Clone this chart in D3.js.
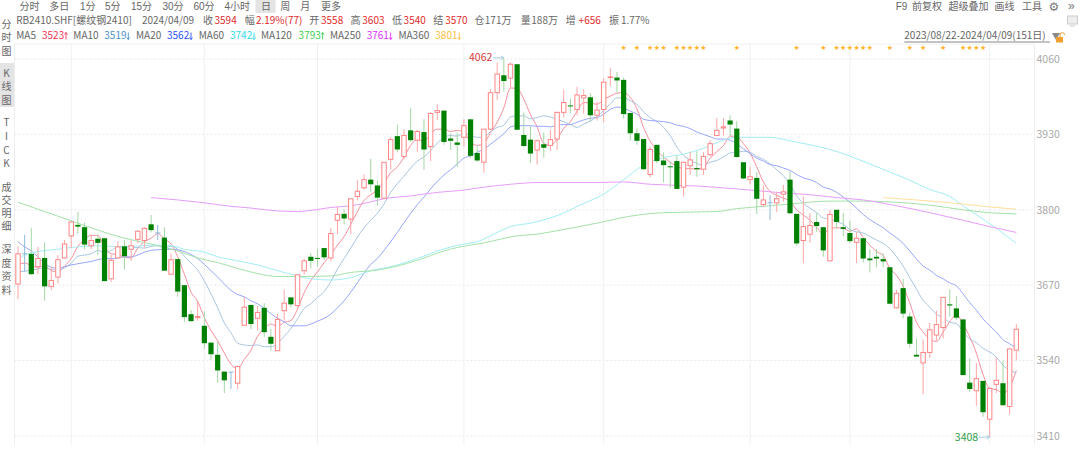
<!DOCTYPE html>
<html>
<head>
<meta charset="utf-8">
<script src="https://cdn.jsdelivr.net/npm/d3@7"></script>
<style>
  html, body { margin: 0; padding: 0; background: #fff; }
  svg { display: block; }
  text { font-family: "Noto Sans CJK SC", "Noto Sans", sans-serif; }
  text.bar { font-family: "Liberation Sans", "Noto Sans CJK SC", sans-serif; }
</style>
</head>
<body>
<svg id="chart" width="1080" height="456"></svg>
<script>
// 日K数据, 2023/08/22 - 2024/04/09
const opens = [3672,3725,3724,3702,3717,3668,3684,3717,3755,3774,3770,3738,3750,3751,3681,3717,3737,3732,3749,3747,3775,3761,3752,3689,3715,3670,3620,3614,3600,3571,3550,3521,3521,3501,3601,3636,3613,3631,3581,3557,3626,3649,3635,3695,3719,3717,3734,3717,3782,3793,3784,3823,3838,3852,3842,3820,3887,3927,3892,3937,3920,3934,3909,3968,3971,3923,3916,3925,3956,3898,3882,3939,4002,4032,4027,4051,3929,3921,3903,3913,3911,3922,3968,3980,3973,3993,3994,3963,3973,4028,4028,4024,3967,3932,3922,3861,3912,3885,3875,3884,3839,3876,3872,3870,3895,3928,3941,3954,3940,3882,3852,3855,3809,3813,3812,3827,3852,3793,3747,3758,3779,3770,3712,3800,3770,3760,3744,3751,3716,3719,3715,3701,3631,3665,3616,3550,3536,3554,3584,3597,3637,3630,3611,3502,3488,3505,3439,3499,3501,3461,3558];
const highs = [3737,3757,3769,3736,3744,3701,3722,3748,3780,3797,3778,3757,3757,3751,3722,3746,3747,3748,3765,3770,3791,3774,3770,3725,3715,3670,3627,3643,3625,3571,3573,3521,3521,3531,3650,3636,3634,3639,3595,3621,3662,3649,3688,3716,3725,3732,3734,3769,3805,3801,3819,3851,3861,3888,3850,3882,3925,3947,3939,3975,3938,3956,3969,3982,3971,3932,3933,3956,3956,3909,3939,4008,4054,4062,4054,4051,3968,3944,3921,3933,3938,3969,4007,3992,4012,4008,4001,3986,4027,4045,4038,4028,3967,3940,3922,3909,3912,3899,3883,3894,3882,3900,3901,3899,3920,3958,3958,3963,3953,3882,3874,3865,3842,3825,3831,3843,3866,3793,3823,3794,3794,3770,3800,3800,3794,3781,3762,3751,3732,3732,3725,3701,3662,3681,3623,3578,3576,3605,3626,3650,3663,3651,3611,3544,3536,3505,3494,3546,3540,3561,3603];
const lows = [3646,3693,3688,3689,3643,3662,3673,3716,3734,3759,3732,3732,3722,3677,3676,3716,3697,3712,3742,3735,3761,3748,3695,3688,3650,3606,3607,3609,3560,3541,3502,3484,3491,3491,3601,3594,3592,3581,3557,3557,3609,3632,3633,3688,3699,3702,3713,3711,3758,3775,3758,3816,3835,3831,3807,3819,3870,3899,3887,3917,3900,3869,3884,3955,3912,3903,3874,3909,3889,3883,3864,3938,3989,4004,4009,3938,3909,3881,3878,3890,3902,3903,3959,3966,3963,3966,3952,3954,3951,4013,4002,3957,3919,3912,3869,3856,3880,3847,3837,3835,3823,3860,3857,3860,3892,3927,3928,3926,3890,3853,3844,3793,3805,3782,3796,3814,3793,3738,3708,3743,3762,3719,3712,3768,3754,3742,3708,3709,3692,3701,3701,3638,3630,3613,3562,3547,3482,3545,3574,3578,3616,3610,3515,3486,3462,3443,3408,3484,3463,3447,3540];
const closes = [3724,3725,3689,3716,3668,3678,3714,3741,3779,3771,3740,3747,3743,3677,3713,3736,3720,3738,3763,3768,3765,3761,3695,3714,3659,3615,3608,3616,3570,3551,3523,3506,3521,3530,3632,3603,3623,3589,3569,3611,3639,3637,3688,3712,3712,3716,3718,3759,3792,3785,3819,3832,3852,3844,3821,3882,3921,3904,3928,3920,3935,3904,3966,3971,3917,3919,3912,3945,3893,3885,3939,4002,4034,4022,4051,3938,3910,3897,3919,3907,3921,3968,3985,3979,3998,3997,3963,3972,4020,4029,4023,3965,3932,3919,3870,3904,3884,3877,3874,3836,3882,3886,3870,3892,3914,3937,3943,3947,3891,3854,3857,3819,3817,3813,3819,3831,3794,3742,3771,3773,3772,3730,3792,3779,3767,3746,3751,3716,3713,3716,3711,3638,3656,3621,3569,3547,3554,3593,3602,3649,3635,3614,3515,3491,3509,3451,3492,3506,3463,3560,3594];

// 均线
const ma5 = [3706,3708,3704,3701,3704,3695,3693,3703,3716,3737,3749,3756,3756,3736,3724,3723,3718,3717,3734,3745,3751,3759,3750,3741,3719,3689,3658,3642,3614,3592,3574,3553,3534,3526,3542,3558,3582,3595,3603,3599,3606,3609,3629,3657,3678,3693,3709,3723,3739,3754,3775,3797,3816,3826,3834,3846,3864,3874,3891,3911,3922,3918,3931,3939,3939,3935,3937,3933,3917,3911,3915,3933,3951,3976,4010,4009,3991,3964,3943,3914,3911,3922,3940,3952,3970,3985,3984,3982,3990,3996,4001,4002,3994,3974,3942,3918,3902,3891,3882,3875,3871,3871,3870,3873,3889,3900,3911,3927,3926,3914,3898,3874,3848,3832,3825,3820,3815,3800,3791,3782,3770,3758,3768,3769,3768,3763,3767,3752,3739,3728,3721,3699,3687,3668,3639,3606,3589,3577,3573,3589,3607,3619,3603,3581,3553,3516,3492,3490,3484,3494,3523];
const ma10 = [3693,3694,3696,3698,3700,3697,3696,3700,3708,3720,3722,3724,3730,3726,3730,3736,3737,3736,3735,3734,3737,3738,3734,3737,3732,3720,3708,3696,3677,3655,3631,3605,3588,3570,3567,3566,3567,3564,3564,3570,3582,3595,3612,3630,3638,3649,3659,3676,3698,3716,3734,3753,3769,3782,3794,3810,3830,3845,3858,3872,3884,3891,3902,3915,3925,3928,3927,3932,3928,3925,3925,3935,3942,3946,3960,3962,3962,3957,3959,3962,3960,3956,3952,3947,3942,3948,3953,3961,3971,3983,3993,3993,3988,3982,3969,3959,3952,3942,3928,3908,3894,3886,3880,3877,3882,3885,3891,3898,3899,3901,3899,3892,3887,3879,3869,3859,3844,3824,3811,3803,3795,3786,3784,3780,3775,3766,3762,3760,3754,3748,3742,3733,3719,3703,3683,3663,3644,3632,3620,3614,3606,3604,3590,3577,3571,3561,3555,3546,3532,3523,3519];
const ma20 = [3745,3736,3729,3719,3708,3701,3699,3702,3705,3707,3709,3711,3714,3716,3716,3717,3719,3719,3722,3727,3730,3731,3732,3732,3731,3728,3723,3716,3706,3695,3684,3672,3661,3654,3650,3643,3638,3630,3621,3613,3607,3600,3600,3600,3603,3608,3613,3620,3631,3643,3658,3674,3691,3706,3716,3730,3745,3761,3778,3794,3809,3822,3836,3849,3860,3869,3879,3889,3893,3899,3905,3913,3922,3931,3943,3945,3945,3945,3944,3944,3943,3946,3947,3947,3951,3955,3958,3959,3965,3973,3977,3975,3970,3965,3956,3954,3953,3952,3950,3946,3944,3940,3934,3930,3926,3922,3922,3920,3914,3905,3897,3889,3884,3878,3876,3872,3868,3861,3855,3852,3847,3839,3836,3830,3822,3813,3803,3792,3783,3776,3769,3760,3752,3742,3729,3715,3703,3696,3687,3681,3674,3669,3655,3640,3627,3612,3600,3589,3576,3569,3562];

const ma60Days = [0,1,3,6,8,12,16,20,23,25,28,30,33,36,39,42,44,47,50,53,56,60,63,67,69,72,74,77,81,85,88,91,94,97,100,103,106,108,110,113,116,119,122,128,131,134,137,140,142,145,147,150];
const ma60 = [3715,3722,3728,3732,3735,3738,3736,3739,3738,3732,3727,3719,3712,3705,3695,3686,3681,3679,3683,3695,3702,3716,3729,3741,3745,3761,3771,3777,3790,3811,3827,3852,3877,3890,3896,3906,3920,3925,3925,3925,3919,3912,3904,3879,3865,3851,3835,3823,3807,3784,3768,3742];
const ma120Days = [0,4,8,12,16,20,24,27,30,33,36,39,42,47,50,54,57,60,64,66,70,75,78,81,87,92,97,105,108,111,116,122,127,132,137,142,146,150];
const ma120 = [3813,3797,3781,3765,3751,3741,3729,3717,3709,3699,3690,3685,3685,3686,3692,3696,3703,3713,3729,3735,3743,3755,3758,3764,3777,3789,3795,3797,3802,3805,3810,3815,3815,3813,3808,3800,3795,3793];
const ma250Days = [20,24,28,32,35,39,42,44,47,50,52,55,59,63,67,70,74,78,81,87,91,95,102,108,114,120,123,127,132,137,142,146,150];
const ma250 = [3821,3817,3812,3806,3803,3798,3797,3799,3804,3807,3811,3819,3824,3830,3834,3839,3844,3847,3847,3847,3848,3844,3841,3836,3830,3825,3821,3817,3807,3795,3782,3771,3761];
const ma360Days = [130,135,141,146,150];
const ma360 = [3821,3817,3811,3805,3801];

const priceTicks = [3410,3540,3670,3800,3930,4060];
const monthStarts = [8,28,45,67,88,110,125,146];   // 每月第一根K线
const starDays = [91,93,95,96,97,99,100,101,102,103,108,117,121,123,124,125,126,127,128,131,134,136,139,142,143,144,145];

const periods = ["分时","多日","1分","5分","15分","30分","60分","4小时","日","周","月","更多"];
const periodX = [19.6,49.2,80,105,131,162.5,193.5,224.5,261,280.3,300.3,321];
const tools = ["F9","前复权","超级叠加","画线","工具"];
const toolX = [895.7,912,948.4,994.5,1022];

const maNames = ["MA5","MA10","MA20","MA60","MA120","MA250","MA360"];
const maLast = ["3523","3519","3562","3742","3793","3761","3801"];
const maUp = [true,false,false,false,true,false,false];
const maNameX = [16.2,73.3,136,198.7,261,329.9,398.4];
const maLastX = [42,104.3,167,230,298.6,366.7,435.3];
const maTextColor = ["#f0355a","#4a90c8","#3050ff","#30dcec","#40cc50","#e030ff","#ffbe40"];
const maLineColor = ["#f78f9c","#a9c6e2","#98a6fb","#a2eef4","#a4e2a8","#e89cfb","#ffdf9c"];

const quoteText = ["RB2410.SHF[螺纹钢2410]","2024/04/09","收","3594","幅","2.19%(77)","开","3558","高","3603","低","3540","结","3570","仓","171万","量","188万","增","+656","振","1.77%"];
const quoteX = [16.2,141.9,203,214.5,244.8,255.9,309.2,321,350.5,362.3,391.9,403.6,433.2,445.3,474.5,484.8,520.7,531.3,565.8,578.6,608.9,620.9];
const quoteRed = ["3594","2.19%(77)","3558","3603","3540","3570","+656"];

const sideTabs = ["分时图","K线图","TICK","成交明细","深度资料"];
const sideY = [[24.8,38.6,52],[74,87,101],[123,137,151,164],[188,201,214,227],[250,264,277,291]];

const svg = d3.select("#chart");
const x = d3.scalePoint().domain(d3.range(closes.length)).range([18,1016.3]);
const y = d3.scaleLinear().domain([3410,4060]).range([436,59]);

// 网格
const plotLeft = 14.5, plotRight = 1034.5, plotTop = 44, plotBottom = 445;
const grid = svg.append("g");
grid.selectAll(".h").data(priceTicks).join("line")
    .attr("x1", plotLeft).attr("x2", plotRight)
    .attr("y1", d => y(d)).attr("y2", d => y(d))
    .attr("stroke", "#e8e8e8").attr("stroke-dasharray", "2,2");
grid.selectAll(".v").data(monthStarts).join("line")
    .attr("x1", d => x(d)).attr("x2", d => x(d))
    .attr("y1", plotTop).attr("y2", plotBottom)
    .attr("stroke", "#f0f0f0");
[plotLeft, plotRight].forEach(v => {
    grid.append("line").attr("x1", v).attr("x2", v)
        .attr("y1", plotTop).attr("y2", plotBottom).attr("stroke", "#eeeeee");
});
grid.append("line").attr("x1", plotLeft).attr("x2", plotRight)
    .attr("y1", plotTop).attr("y2", plotTop).attr("stroke", "#f0f0f0");

// 价格轴
const axis = svg.append("g").attr("transform", `translate(${plotRight},0)`)
    .call(d3.axisRight(y).tickValues(priceTicks).tickSize(0).tickPadding(2).tickFormat(d3.format("d")));
axis.select(".domain").remove();
axis.selectAll("text").attr("fill", "#a8a8a8").attr("font-size", 10.5)
    .style("font-family", '"Noto Sans CJK SC"');

// 均线
const daily = a => a.map((v, i) => [i, v]);
const picked = (days, a) => days.map((d, i) => [d, a[i]]);
const maSeries = [daily(ma5), daily(ma10), daily(ma20), picked(ma60Days, ma60),
    picked(ma120Days, ma120), picked(ma250Days, ma250), picked(ma360Days, ma360)];
const line = d3.line().x(d => x(d[0])).y(d => y(d[1])).curve(d3.curveMonotoneX);
svg.append("g").selectAll("path").data(maSeries).join("path")
    .attr("d", line).attr("fill", "none")
    .attr("stroke", (d, i) => maLineColor[i]).attr("stroke-width", 1);

// K线
const candleColor = i => closes[i] > opens[i] ? "#ff8c8c" : closes[i] < opens[i] ? "#008000" : "#8fbbdb";
const wickColor = i => closes[i] > opens[i] ? "#ffa6a6" : closes[i] < opens[i] ? "#a3d7a3" : "#8fbbdb";
const candles = svg.append("g").selectAll("g").data(d3.range(closes.length)).join("g");
candles.append("line")
    .attr("x1", i => x(i)).attr("x2", i => x(i))
    .attr("y1", i => y(highs[i])).attr("y2", i => y(lows[i]))
    .attr("stroke", wickColor);
candles.filter(i => closes[i] > opens[i]).append("rect")
    .attr("x", i => x(i) - 2.2).attr("width", 4.4)
    .attr("y", i => y(closes[i])).attr("height", i => Math.max(0.5, y(opens[i]) - y(closes[i])))
    .attr("fill", "#fff").attr("stroke", "#ff8585");
candles.filter(i => closes[i] <= opens[i]).append("rect")
    .attr("x", i => x(i) - 2.6).attr("width", 5.2)
    .attr("y", i => y(opens[i])).attr("height", i => Math.max(1, y(closes[i]) - y(opens[i])))
    .attr("fill", candleColor);

// 最高最低标注
const topDay = d3.maxIndex(highs), lowDay = d3.minIndex(lows);
const note = (day, price, color) => {
    svg.append("text").attr("x", x(day) - 11.5).attr("y", y(price) + 0.5)
        .attr("text-anchor", "end").attr("dominant-baseline", "middle")
        .attr("font-size", 10.5).attr("fill", color).text(price);
    svg.append("path")
        .attr("d", `M${x(day) - 11},${y(price)}H${x(day)}M${x(day) - 3},${y(price) - 2}L${x(day)},${y(price)}L${x(day) - 3},${y(price) + 2}`)
        .attr("fill", "none").attr("stroke", "#a9cfe0");
};
note(topDay, highs[topDay], "#d63a3a");
note(lowDay, lows[lowDay], "#2f9e4a");

// 星标
svg.append("g").selectAll("text").data(starDays).join("text")
    .attr("x", d => x(d)).attr("y", 48.5)
    .attr("text-anchor", "middle").attr("dominant-baseline", "middle")
    .attr("font-size", 7).attr("fill", "#ffb020")
    .style("font-family", '"DejaVu Sans"').text("★");

// 顶部文字
const label = (t, px, py, color, size) => svg.append("text")
    .attr("x", px).attr("y", py).attr("dominant-baseline", "middle")
    .attr("font-size", size || 10).attr("fill", color || "#666").text(t);

svg.append("rect").attr("x", 255.5).attr("y", 0).attr("width", 20).attr("height", 13).attr("fill", "#e4e4e4");
periods.forEach((t, i) => label(t, periodX[i], 7).attr("class", "bar"));
tools.forEach((t, i) => label(t, toolX[i], 7).attr("class", "bar"));
quoteText.forEach((t, i) => label(t, quoteX[i], 20.8, quoteRed.includes(t) ? "#e02a2a" : "#666"));
maNames.forEach((t, i) => {
    label(t, maNameX[i], 36);
    label(maLast[i], maLastX[i], 36, maTextColor[i]);
    // 涨跌小箭头
    const ax = maLastX[i] + 24, tip = maUp[i] ? 32.5 : 39.5, tail = maUp[i] ? 39.5 : 32.5, back = maUp[i] ? 2 : -2;
    svg.append("path").attr("d", `M${ax},${tail}V${tip}M${ax - 1.5},${tip + back}L${ax},${tip}L${ax + 1.5},${tip + back}`)
        .attr("fill", "none").attr("stroke", maTextColor[i]).attr("stroke-width", 0.9);
});

// 右上角
label("2023/08/22-2024/04/09(151日)", 904.3, 36);
svg.append("line").attr("x1", 904.3).attr("x2", 1050).attr("y1", 42).attr("y2", 42).attr("stroke", "#888");
svg.append("path").attr("d", "M1052,33h8l-4,7z").attr("fill", "#8a8a8a");
svg.append("rect").attr("x", 1056).attr("y", 37).attr("width", 7).attr("height", 5.5).attr("fill", "#f0a030");
svg.append("path").attr("d", "M1060,37v-2a2.3,2.3,0,0,1,4.6,0").attr("fill", "none").attr("stroke", "#f0a030");
svg.append("text").attr("x", 1054).attr("y", 7).attr("text-anchor", "middle").attr("dominant-baseline", "middle")
    .attr("font-size", 12).attr("fill", "#777").style("font-family", '"DejaVu Sans"').text("⚙");
label("»", 1068, 6.5, "#777", 12).attr("class", "bar");
svg.append("rect").attr("x", 1067.5).attr("y", 16).attr("width", 10).attr("height", 8).attr("fill", "#eee").attr("stroke", "#ccc");
svg.append("path").attr("d", "M1070,26h5").attr("stroke", "#ccc");

// 左侧标签
svg.append("rect").attr("x", 0).attr("y", 63).attr("width", 14).attr("height", 44).attr("fill", "#e4e4e4");
sideTabs.forEach((t, i) => {
    Array.from(t).forEach((ch, j) => {
        svg.append("text").attr("x", 6.5).attr("y", sideY[i][j])
            .attr("text-anchor", "middle").attr("dominant-baseline", "middle")
            .attr("font-size", 10).attr("fill", "#666").text(ch);
    });
});
</script>
</body>
</html>
